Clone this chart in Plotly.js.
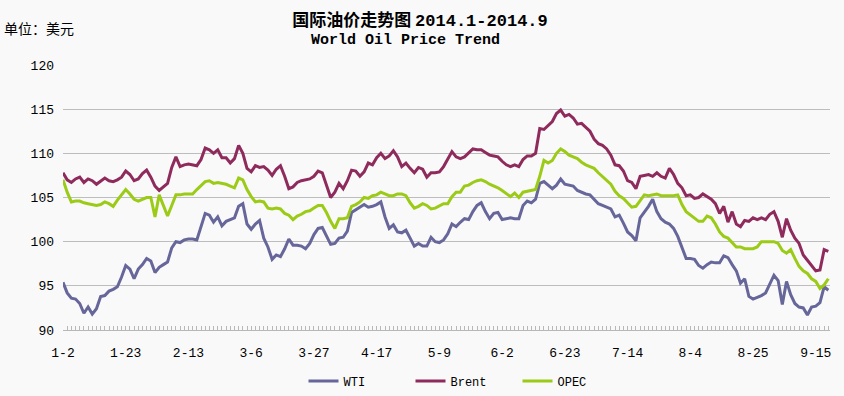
<!DOCTYPE html>
<html>
<head>
<meta charset="utf-8">
<script src="https://cdn.plot.ly/plotly-3.0.1.min.js"></script>
<style>
html,body{margin:0;padding:0;background:#f9f9f9;}
#chart{width:844px;height:396px;}
</style>
</head>
<body>
<div id="chart"></div>
<script>
// Tick labels (one point per trading day, labels every 15 points)
const tickIdx = [0, 15, 30, 45, 60, 75, 90, 105, 120, 135, 150, 165, 180];
const tickLabels = ["1-2", "1-23", "2-13", "3-6", "3-27", "4-17", "5-9", "6-2", "6-23", "7-14", "8-4", "8-25", "9-15"];

const wti = [
95.4,94.2,93.6,93.5,93.0,91.9,92.6,91.8,92.4,93.8,
93.9,94.4,94.6,94.9,96.0,97.3,96.9,95.8,96.9,97.4,
98.1,97.8,96.5,97.1,97.4,97.7,99.3,100.0,99.9,100.2,
100.3,100.3,100.2,101.6,103.2,103.0,102.2,102.8,101.8,102.3,
102.5,102.7,104.0,104.3,102.0,101.4,102.0,102.4,100.4,99.4,
98.0,98.5,98.3,99.2,100.3,99.6,99.6,99.5,99.2,99.8,
100.8,101.5,101.6,100.6,99.7,99.8,100.4,100.5,101.2,103.3,
103.6,103.8,104.2,103.9,104.0,104.2,104.5,102.8,101.5,101.9,
101.1,101.0,101.3,100.4,99.5,99.8,99.5,99.5,100.5,100.0,
99.9,100.2,100.9,102.0,101.7,102.2,102.6,102.5,103.4,104.1,
104.4,103.4,102.6,103.2,103.3,102.5,102.6,102.7,102.6,102.6,
104.1,104.6,104.4,104.8,106.6,106.8,106.4,106.0,106.4,107.1,
106.5,106.4,106.3,105.8,105.6,105.4,105.3,104.8,104.3,104.1,
103.9,103.7,102.8,103.0,102.1,101.1,100.7,100.1,102.7,103.3,
104.0,104.8,103.4,102.6,102.2,102.0,101.5,100.6,99.3,98.1,
98.1,98.0,97.3,97.0,97.4,97.7,97.6,97.6,98.4,98.2,
97.4,96.7,95.3,95.8,93.8,93.5,93.7,93.9,94.2,95.3,
96.2,95.6,92.9,95.5,94.0,93.0,92.6,92.5,91.7,92.6,
92.7,93.1,94.9,94.5
];

const brent = [
107.8,107.0,106.7,107.1,107.3,106.7,107.1,106.9,106.5,106.8,
107.2,106.9,106.8,107.0,107.3,108.0,107.6,106.9,107.1,107.7,
108.1,107.3,106.3,105.8,106.2,106.6,108.4,109.6,108.5,108.7,
108.8,108.7,108.6,109.3,110.6,110.4,110.0,110.4,109.5,109.5,
108.9,109.4,110.9,110.0,108.3,107.9,108.6,108.4,108.5,108.1,
107.5,108.2,108.6,107.4,106.0,106.2,106.7,106.9,107.0,107.1,
107.4,108.0,107.8,106.5,105.0,105.6,106.6,106.0,106.9,108.1,
108.0,107.4,107.9,108.9,108.7,109.5,110.0,109.4,109.7,110.3,
109.6,108.5,108.9,108.3,107.8,108.4,108.2,107.3,107.8,107.8,
107.9,108.5,109.4,110.2,109.6,109.4,109.6,110.0,110.5,110.4,
110.4,110.1,109.8,109.7,109.6,109.1,108.7,108.5,108.7,108.5,
109.3,109.7,109.7,110.0,112.8,112.7,113.1,113.6,114.5,114.9,
114.2,114.4,114.0,113.3,113.4,112.9,112.5,111.6,111.1,110.9,
110.5,109.8,108.7,108.6,108.0,106.9,106.7,106.0,107.4,107.5,
107.6,107.4,107.8,107.4,107.2,108.3,107.6,106.6,106.1,105.2,
105.3,104.9,105.0,105.4,105.1,104.8,104.3,103.2,104.0,102.2,
103.4,102.0,101.7,102.4,102.3,102.7,102.5,102.7,102.5,103.1,
103.4,102.3,100.5,102.6,101.3,100.4,99.8,98.5,97.9,97.3,
96.7,96.8,99.1,98.9
];

const opec = [
107.0,105.6,104.5,104.6,104.6,104.4,104.3,104.2,104.1,104.2,
104.5,104.3,104.0,104.7,105.3,105.9,105.4,104.8,104.6,104.8,
105.0,105.0,102.8,105.3,104.0,102.9,104.1,105.3,105.3,105.4,
105.4,105.4,105.9,106.3,106.8,106.9,106.6,106.7,106.6,106.5,
106.3,106.1,107.2,107.0,105.9,105.1,104.5,104.6,104.5,103.8,
103.7,103.8,103.7,103.2,103.0,102.5,102.9,103.1,103.4,103.5,
103.8,104.1,104.1,103.3,102.3,101.5,102.6,102.6,102.7,104.0,
104.2,104.5,105.0,104.9,105.2,105.3,105.6,105.4,105.2,105.2,
105.4,105.4,105.2,104.4,103.8,104.0,104.3,104.1,103.7,103.8,
104.1,104.3,104.3,105.1,105.6,105.6,106.3,106.4,106.7,106.9,
107.0,106.8,106.5,106.3,106.1,105.8,105.4,105.1,105.5,105.0,
105.6,105.7,105.8,105.9,107.4,109.2,108.9,109.2,110.0,110.5,
110.2,109.8,109.6,109.4,109.0,108.7,108.5,108.3,107.8,107.4,
107.0,106.5,105.7,105.2,104.9,104.4,103.9,104.0,104.7,105.3,
105.2,105.3,105.4,105.2,105.2,105.2,105.2,105.3,104.2,103.4,
103.0,102.7,102.3,102.3,102.9,102.7,102.0,101.1,100.6,100.4,
99.9,99.4,99.4,99.2,99.2,99.2,99.4,100.0,100.0,100.0,
100.0,99.8,99.0,98.7,99.1,98.1,97.2,96.7,96.4,95.8,
95.5,94.7,95.1,95.8
];

const xIdx = wti.map((_, i) => i);

const lineFont = "Liberation Mono, DejaVu Sans Mono, monospace";
const cjkFont = "Noto Sans CJK SC, Liberation Mono, sans-serif";

const traces = [
  {x: xIdx, y: wti, name: "WTI", type: "scatter", mode: "lines",
   line: {color: "#66669A", width: 3}},
  {x: xIdx, y: brent, name: "Brent", type: "scatter", mode: "lines",
   line: {color: "#8E2B5C", width: 3}},
  {x: xIdx, y: opec, name: "OPEC", type: "scatter", mode: "lines",
   line: {color: "#9BCB16", width: 3}}
];

const layout = {
  width: 844, height: 396,
  paper_bgcolor: "#f9f9f9", plot_bgcolor: "#f9f9f9",
  margin: {l: 63, r: 14, t: 65, b: 66, autoexpand: false},
  font: {family: lineFont, size: 13, color: "#000"},
  showlegend: true,
  legend: {orientation: "h", xref: "container", yref: "container",
           x: 0.5 + 42 / 844, xanchor: "center", y: 1 - 381 / 396, yanchor: "middle",
           font: {family: lineFont, size: 12, color: "#000"}, itemwidth: 30,
           entrywidth: 62, entrywidthmode: "pixels",
           bgcolor: "rgba(0,0,0,0)"},
  title: {text: "<b>国际油价走势图 <span style='font-family:Liberation Mono'>2014.1-2014.9</span></b>",
          font: {family: cjkFont, size: 17, color: "#000"},
          xref: "container", yref: "container", x: 420/844, xanchor: "center", y: 1 - 20/396, yanchor: "middle"},
  annotations: [
    {text: "<b>World Oil Price Trend</b>", xref: "paper", yref: "paper",
     x: (405 - 63) / 767, y: (330 - 40) / 265, xanchor: "center", yanchor: "middle",
     showarrow: false, font: {family: lineFont, size: 15, color: "#000"}},
    {text: "单位：美元", xref: "paper", yref: "paper",
     x: (2 - 63) / 767, y: (330 - 28) / 265, xanchor: "left", yanchor: "middle",
     showarrow: false, font: {family: cjkFont, size: 14, color: "#000"}}
  ],
  xaxis: {
    range: [0, 183.4], tickmode: "array", tickvals: tickIdx, ticktext: tickLabels,
    showgrid: false, zeroline: false, showline: true, linecolor: "#b8b8b8", linewidth: 1,
    ticks: "inside", ticklen: 4, tickcolor: "#b8b8b8", tickwidth: 1,
    minor: {ticks: "inside", dtick: 1, ticklen: 4, tickcolor: "#b8b8b8", showgrid: false},
    tickfont: {family: lineFont, size: 13, color: "#000"}, ticklabelstandoff: 10
  },
  yaxis: {
    range: [90, 120], dtick: 5, tick0: 90, showgrid: true, gridcolor: "#bdbdbd", gridwidth: 1,
    zeroline: false, showline: false, ticks: "",
    tickfont: {family: lineFont, size: 13, color: "#000"}, ticklabelstandoff: 8
  }
};

Plotly.newPlot("chart", traces, layout, {displayModeBar: false, staticPlot: true});
</script>
</body>
</html>
